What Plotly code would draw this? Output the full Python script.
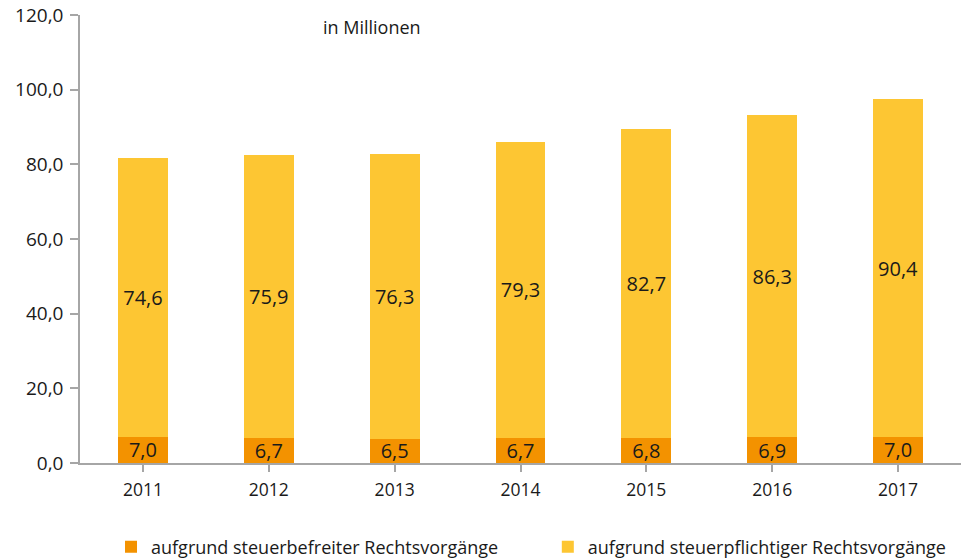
import plotly.graph_objects as go

years = ["2011", "2012", "2013", "2014", "2015", "2016", "2017"]
befreit = [7.0, 6.7, 6.5, 6.7, 6.8, 6.9, 7.0]
pflichtig = [74.6, 75.9, 76.3, 79.3, 82.7, 86.3, 90.4]
y_ticks = [0, 20, 40, 60, 80, 100, 120]

FONT = "Open Sans"
TXT = "#1a1a1a"

fig = go.Figure()
fig.add_trace(go.Bar(
    x=years, y=befreit, name="aufgrund steuerbefreiter Rechtsvorgänge",
    marker=dict(color="#F39200", line=dict(width=0)),
    text=[f"{v:.1f}".replace(".", ",") for v in befreit],
    textposition="inside", insidetextanchor="middle", constraintext="none",
    textangle=0,
    textfont=dict(family=FONT, size=20, color=TXT),
    legend="legend",
))
fig.add_trace(go.Bar(
    x=years, y=pflichtig, name="aufgrund steuerpflichtiger Rechtsvorgänge",
    marker=dict(color="#FDC633", line=dict(width=0)),
    text=[f"{v:.1f}".replace(".", ",") for v in pflichtig],
    textposition="inside", insidetextanchor="middle", constraintext="none",
    textangle=0,
    textfont=dict(family=FONT, size=20, color=TXT),
    legend="legend2",
))

leg_common = dict(orientation="h", y=-0.1875, yanchor="middle", xanchor="left",
                  font=dict(family=FONT, size=18, color=TXT),
                  itemclick=False, bgcolor="rgba(0,0,0,0)")

fig.update_layout(
    template="none",
    barmode="stack", bargap=0.603,
    width=961, height=560,
    margin=dict(l=80, r=0, t=15, b=97, pad=0, autoexpand=False),
    paper_bgcolor="white", plot_bgcolor="white",
    separators=",.",
    font=dict(family=FONT, size=18, color=TXT),
    showlegend=True,
    legend=dict(x=0.0352, **leg_common),
    legend2=dict(x=0.531, **leg_common),
)
fig.update_xaxes(
    automargin=False, ticklabeloverflow="allow",
    showline=True, linecolor="#a6a6a6", linewidth=1.5,
    ticks="outside", ticklen=7, tickcolor="#a6a6a6", tickwidth=1.5, tickson="boundaries",
    tickfont=dict(family=FONT, size=17.5, color=TXT), ticklabelstandoff=3,
    showgrid=False,
)
fig.update_yaxes(
    automargin=False, ticklabeloverflow="allow",
    range=[0, 120], tickvals=y_ticks, tickformat=".1f",
    showline=True, linecolor="#a6a6a6", linewidth=1.5,
    ticks="outside", ticklen=8, tickcolor="#a6a6a6", tickwidth=1.5,
    tickfont=dict(family=FONT, size=19, color=TXT), ticklabelstandoff=3,
    showgrid=False, zeroline=False,
)
fig.add_annotation(
    text="in Millionen", xref="paper", yref="paper", x=0.331, y=0.973,
    xanchor="center", yanchor="middle",
    showarrow=False, font=dict(family=FONT, size=18, color=TXT),
)

fig.write_html("out.html",
               config={"displayModeBar": False},
               post_script="document.body.style.margin='0';document.body.style.padding='0';")
